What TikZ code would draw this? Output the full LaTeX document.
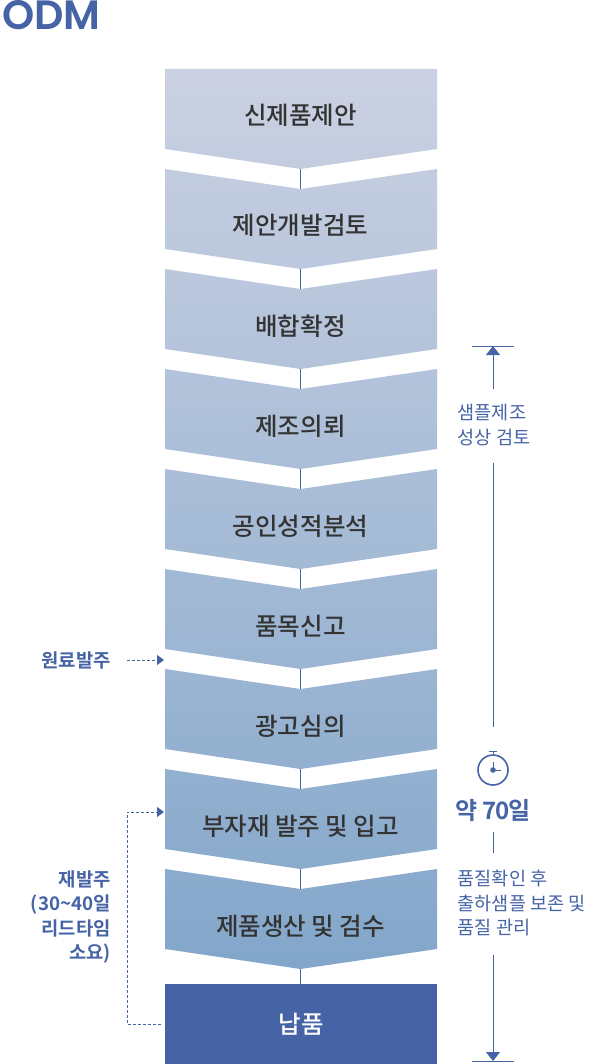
\documentclass[tikz,border=0pt]{standalone}
\usepackage{fontspec}
\setmainfont{Noto Sans CJK KR}[BoldFont={* Bold}]
\newfontfamily\mediumfont{Noto Sans CJK KR Medium}
\newfontfamily\odmfont{Poppins SemiBold}
\usetikzlibrary{arrows.meta}
\definecolor{odmblue}{RGB}{69,99,165}
\definecolor{darktext}{RGB}{51,51,51}
\definecolor{gradstart}{RGB}{203,209,226}
\definecolor{gradend}{RGB}{130,166,202}
% chevron body: top edge y, then the two gradient percentages
\newcommand{\chevbody}[3]{\shade[top color=gradend!#2!gradstart, bottom color=gradend!#3!gradstart]
  (165,#1) -- (300.5,#1+20) -- (437,#1) -- (437,#1+80) -- (300.5,#1+100) -- (165,#1+80) -- cycle;}
\tikzset{
  stepbox/.style={minimum width=272pt, minimum height=80pt, inner sep=0pt,
    text height=12pt, text depth=0pt,
    text=darktext, font=\fontsize{24.5}{28}\selectfont\mediumfont},
  flow/.style={draw=odmblue, line width=1pt},
  span/.style={draw=odmblue, line width=1pt},
  spantip/.style={-{Triangle[length=9pt,width=14pt]}, draw=odmblue, line width=1pt},
  reorder/.style={draw=odmblue, line width=1pt, dash pattern=on 3pt off 2pt, -{Triangle[length=7pt,width=10pt]}},
  sidenote/.style={text=odmblue, font=\fontsize{18.6}{24.5}\selectfont, align=left, anchor=west, inner sep=0pt},
  ordernote/.style={text=odmblue, font=\fontsize{18.8}{24.5}\selectfont\bfseries, align=right, anchor=east, inner sep=0pt}
}
\begin{document}
\begin{tikzpicture}[x=1pt,y=-1pt]
\useasboundingbox (0,0) rectangle (600,1064);

% Title
\node[text=odmblue, font=\fontsize{41}{41}\selectfont\odmfont, anchor=west, inner sep=0pt] (title) at (2,15) {ODM};

% Chevron bodies
\shade[top color=gradstart, bottom color=gradend!11!gradstart]
  (165,69) -- (437,69) -- (437,149) -- (300.5,169) -- (165,149) -- cycle;
\chevbody{169}{11}{22}
\chevbody{269}{22}{33}
\chevbody{369}{33}{44}
\chevbody{469}{44}{55}
\chevbody{569}{55}{66}
\chevbody{669}{66}{77}
\chevbody{769}{77}{88}
\chevbody{869}{88}{100}

% Steps
\node[stepbox, minimum height=100pt] (step1) at (300.5,119) {신제품제안};
\node[stepbox] (step2) at (300.5,229) {제안개발검토};
\node[stepbox] (step3) at (300.5,329) {배합확정};
\node[stepbox] (step4) at (300.5,429) {제조의뢰};
\node[stepbox] (step5) at (300.5,529) {공인성적분석};
\node[stepbox] (step6) at (300.5,629) {품목신고};
\node[stepbox] (step7) at (300.5,729) {광고심의};
\node[stepbox] (step8) at (300.5,829) {부자재 발주 및 입고};
\node[stepbox] (step9) at (300.5,929) {제품생산 및 검수};
\node[stepbox, fill=odmblue, text=white, text height=18pt, minimum width=272pt, xshift=0.5pt] (step10) at (300.5,1024) {납품};

% Connections
\draw[flow] (step1.south) -- (step2.north);
\draw[flow] (step2.south) -- (step3.north);
\draw[flow] (step3.south) -- (step4.north);
\draw[flow] (step4.south) -- (step5.north);
\draw[flow] (step5.south) -- (step6.north);
\draw[flow] (step6.south) -- (step7.north);
\draw[flow] (step7.south) -- (step8.north);
\draw[flow] (step8.south) -- (step9.north);
\draw[flow] (step9.south) -- ([xshift=-0.5pt]step10.north);

% Right side span
\coordinate (barTopL) at (472,346);
\coordinate (barTopR) at (514,346);
\coordinate (barTop) at (493,346);
\coordinate (lineA) at (493,389);
\coordinate (lineB) at (493,463);
\coordinate (lineC) at (493,727);
\coordinate (lineD) at (493,832);
\coordinate (lineE) at (493,853);
\coordinate (lineF) at (493,955);
\coordinate (barBot) at (493,1061);
\coordinate (barBotL) at (472,1061);
\coordinate (barBotR) at (514,1061);
\draw[span] (barTopL) -- (barTopR);
\draw[span] (barBotL) -- (barBotR);
\draw[spantip] (lineA) -- (barTop);
\draw[span] (lineB) -- (lineC);
\draw[span] (lineD) -- (lineE);
\draw[spantip] (lineF) -- (barBot);

% Clock
\node[circle, draw=odmblue, line width=1.6pt, minimum size=30pt, inner sep=0pt] (clock) at (493,770) {};
\draw[span] (clock.north) -- ++(0,-2.5) coordinate (crown);
\draw[span, line width=1.4pt] ([xshift=-4pt]crown) -- ([xshift=4pt]crown);
\fill[odmblue] (clock.center) circle (2.8pt);
\draw[span] (clock.center) -- ++(0,-8);
\draw[span] (clock.center) -- ++(8,0);

% Right labels
\node[sidenote] (sample) at (457.5,425) {샘플제조\\성상 검토};
\node[text=odmblue, font=\fontsize{24}{28}\selectfont\bfseries\addfontfeature{LetterSpace=-4}, inner sep=0pt] (days) at (493,811) {약 70일};
\node[sidenote] (quality) at (457.5,903) {품질확인 후\\출하샘플 보존 및\\품질 관리};

% Left labels
\node[ordernote] (material) at (111,660) {원료발주};
\node[ordernote] (again) at (111,917) {재발주\\(30\textasciitilde 40일\\리드타임\\소요)};
\coordinate (matFrom) at (127,660);
\coordinate (matTo) at (164,660);
\coordinate (reFrom) at (161,1024);
\coordinate (reLow) at (127,1024);
\coordinate (reHigh) at (127,812);
\coordinate (reTo) at (164,812);
\draw[reorder] (matFrom) -- (matTo);
\draw[reorder] (reFrom) -- (reLow) -- (reHigh) -- (reTo);
\end{tikzpicture}
\end{document}
